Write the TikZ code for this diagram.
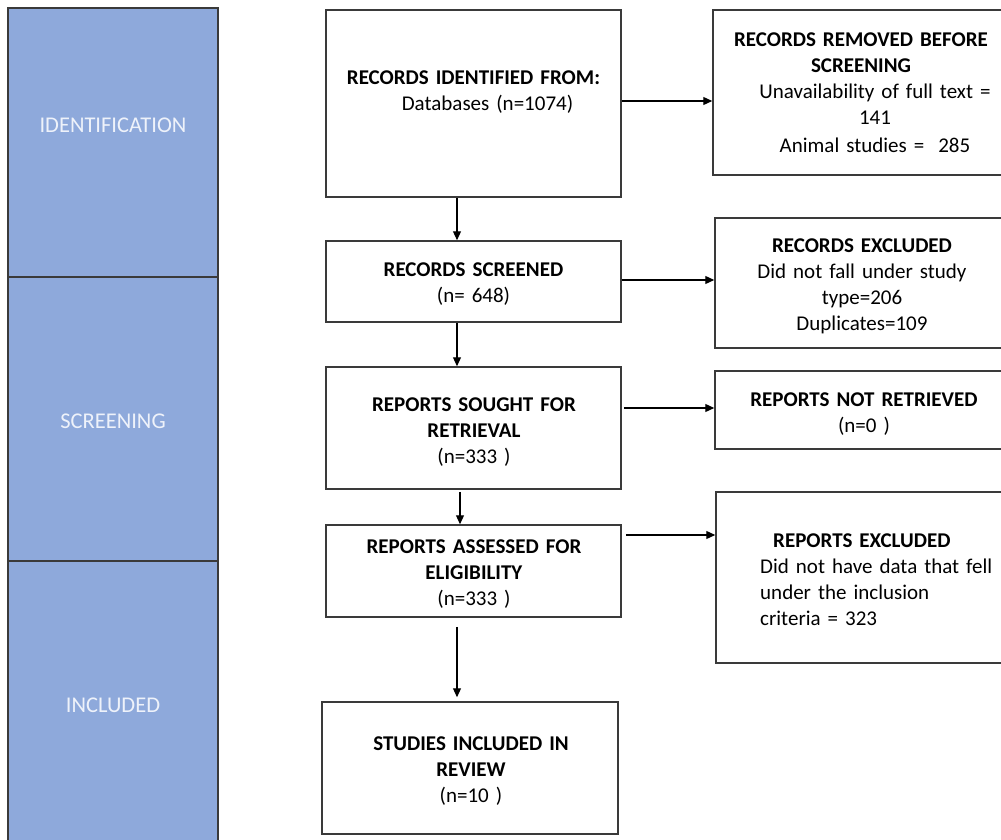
\documentclass[tikz,border=0pt]{standalone}
\usepackage{fontspec}
\setmainfont{Carlito}[WordSpace=0.8]
\usetikzlibrary{arrows.meta,calc}
\definecolor{phasefill}{HTML}{8EA9DB}
\definecolor{edgecol}{HTML}{3A3A3A}
\definecolor{phasetext}{HTML}{EEF2FA}
\begin{document}
\begin{tikzpicture}[x=1pt,y=-1pt,
  box/.style={draw=edgecol, line width=1.5pt, fill=white, inner sep=0pt},
  phasebox/.style={draw=edgecol, line width=1.5pt, fill=phasefill, minimum width=210, inner sep=0pt},
  phaselbl/.style={text=phasetext, font=\fontsize{22.5}{26}\selectfont, inner sep=0pt, anchor=base},
  txt/.style={align=center, font=\fontsize{21}{26}\selectfont, inner sep=0pt, anchor=base, text width=290pt},
  arr/.style={draw=black, line width=1.2pt, -{Triangle[length=9pt,width=8pt]}}]
\useasboundingbox (0,0) rectangle (1001,840);
\fill[white] (0,0) rectangle (1001,840);

% phase column
\node[phasebox, minimum height=269] (ph1) at (113,142.5) {};
\node[phasebox, minimum height=284] (ph2) at (113,419) {};
\node[phasebox, minimum height=281] (ph3) at (113,701.5) {};
\node[phaselbl] (ph1t) at (113,133) {IDENTIFICATION};
\node[phaselbl] (ph2t) at (113,428) {SCREENING};
\node[phaselbl] (ph3t) at (113,712) {INCLUDED};

% main column boxes
\node[box, minimum width=295, minimum height=187] (b1) at (473.5,103.5) {};
\node[box, minimum width=295, minimum height=81]  (b2) at (473.5,281.5) {};
\node[box, minimum width=295, minimum height=122] (b3) at (473.5,428) {};
\node[box, minimum width=295, minimum height=92]  (b4) at (473.5,571) {};
\node[box, minimum width=296, minimum height=132] (b5) at (470,768) {};

% right column boxes
\node[box, minimum width=290, minimum height=165] (r1) at (858,92.5) {};
\node[box, minimum width=288, minimum height=130] (r2) at (859,283) {};
\node[box, minimum width=288, minimum height=78]  (r3) at (859,410) {};
\node[box, minimum width=287, minimum height=171] (r4) at (859.5,577.5) {};

% texts
\node[txt] (b1t) at (473.5,85) {\textbf{RECORDS IDENTIFIED FROM:}\\\hspace*{28pt}Databases (n=1074)};
\node[txt] (b2t) at (473.5,276) {\textbf{RECORDS SCREENED}\\(n= 648)};
\node[txt] (b3t) at (474,411) {\textbf{REPORTS SOUGHT FOR}\\\textbf{RETRIEVAL}\\(n=333 )};
\node[txt] (b4t) at (474,553) {\textbf{REPORTS ASSESSED FOR}\\\textbf{ELIGIBILITY}\\(n=333 )};
\node[txt] (b5t) at (471,750) {\textbf{STUDIES INCLUDED IN}\\\textbf{REVIEW}\\(n=10 )};

\node[txt] (r1t) at (861,47) {\textbf{RECORDS REMOVED BEFORE}\\\textbf{SCREENING}\\\hspace*{28pt}Unavailability of full text =\\\hspace*{28pt}141\\[2pt]\hspace*{28pt}Animal studies = \ 285};
\node[txt] (r2t) at (862,252) {\textbf{RECORDS EXCLUDED}\\Did not fall under study\\type=206\\Duplicates=109};
\node[txt] (r3t) at (864,406) {\textbf{REPORTS NOT RETRIEVED}\\(n=0 )};
\node[txt, align=left, text width=240pt, anchor=base west] (r4t) at (760,547) {\hspace*{13pt}\textbf{REPORTS EXCLUDED}\\Did not have data that fell\\under the inclusion\\criteria = 323};

% connector start points
\coordinate (s1) at ($(b1.south)+(-16.5,0)$);
\coordinate (s2) at ($(b2.south)+(-16.5,0)$);
\coordinate (s3) at ($(b3.south)+(-13.5,2)$);
\coordinate (s4) at ($(b4.south)+(-16.5,9)$);
\coordinate (e4) at ($(s4 |- b5.north)+(0,-4)$);
\coordinate (h1) at ($(b1.east)+(0,-2.5)$);
\coordinate (h2) at ($(b2.east)+(0,-1.5)$);
\coordinate (h3) at ($(b3.east)+(2,-20)$);
\coordinate (h4) at ($(b4.east)+(4,-36)$);

% vertical connectors
\draw[arr] (s1) -- (s1 |- b2.north);
\draw[arr] (s2) -- (s2 |- b3.north);
\draw[arr] (s3) -- (s3 |- b4.north);
\draw[arr] (s4) -- (e4);

% horizontal connectors
\draw[arr] (h1) -- (h1 -| r1.west);
\draw[arr] (h2) -- (h2 -| r2.west);
\draw[arr] (h3) -- (h3 -| r3.west);
\draw[arr] (h4) -- (h4 -| r4.west);
\end{tikzpicture}
\end{document}
